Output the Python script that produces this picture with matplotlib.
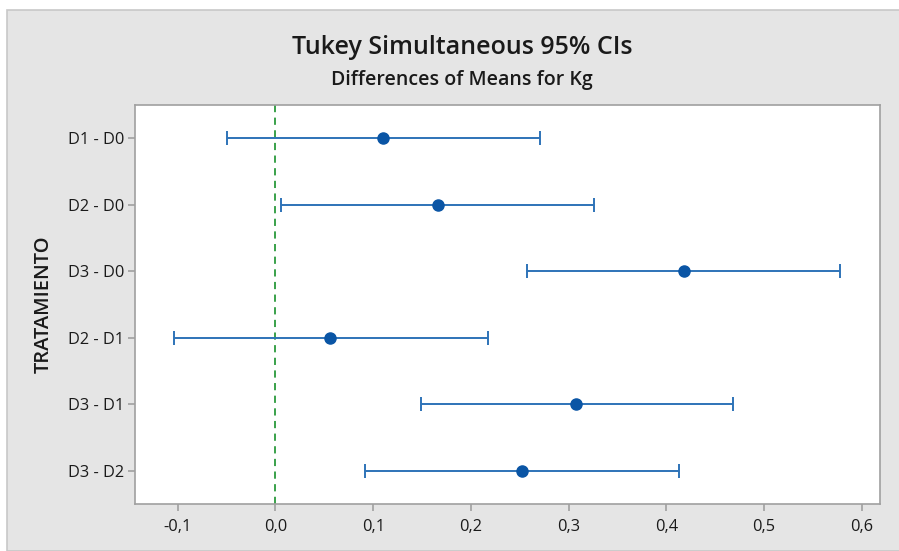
import matplotlib
matplotlib.use('Agg')
import matplotlib.pyplot as plt
import matplotlib.patches as mpatches
from matplotlib.ticker import FuncFormatter

# comparisons (top to bottom)
comparisons = ['D1 - D0', 'D2 - D0', 'D3 - D0', 'D2 - D1', 'D3 - D1', 'D3 - D2']
diff_means = [0.110, 0.166, 0.418, 0.056, 0.308, 0.252]
ci_lower = [-0.050, 0.006, 0.257, -0.104, 0.149, 0.092]
ci_upper = [0.271, 0.326, 0.578, 0.217, 0.468, 0.413]
x_ticks = [-0.1, 0.0, 0.1, 0.2, 0.3, 0.4, 0.5, 0.6]

plt.rcParams['font.family'] = ['Open Sans', 'DejaVu Sans']

fig = plt.figure(figsize=(8.99, 5.51), dpi=100)
fig.patch.set_facecolor('white')

# gray panel behind everything
panel = mpatches.Rectangle((7 / 899, 0), 1, 1 - 10 / 551, transform=fig.transFigure,
                           facecolor='#e5e5e5', edgecolor='#c8c8c8', linewidth=1.2, zorder=-5)
fig.patches.append(panel)

ax = fig.add_axes([135 / 899, 1 - 504 / 551, (880 - 135) / 899, (504 - 105) / 551])
ax.set_facecolor('white')

ypos = list(range(len(comparisons)))
xerr = [[m - lo for m, lo in zip(diff_means, ci_lower)],
        [hi - m for m, hi in zip(diff_means, ci_upper)]]

ax.axvline(0, color='#2a9a3c', linestyle=(0, (4, 3)), linewidth=1.3, zorder=1)
ax.errorbar(diff_means, ypos, xerr=xerr, fmt='o', color='#0a55a5', ecolor='#2e73b8',
            elinewidth=1.4, capsize=5, capthick=1.4, markersize=8, zorder=3)

ax.set_xlim(-0.1438, 0.6187)
ax.set_ylim(len(comparisons) - 0.5, -0.5)
ax.set_yticks(ypos)
ax.set_yticklabels(comparisons)
ax.set_xticks(x_ticks)
ax.xaxis.set_major_formatter(FuncFormatter(lambda v, p: f'{v:.1f}'.replace('.', ',').replace('-0,0', '0,0')))

for sp in ax.spines.values():
    sp.set_color('#a0a0a0')
    sp.set_linewidth(1.2)
ax.tick_params(axis='both', colors='#a0a0a0', labelcolor='#1a1a1a', length=5, width=1.2,
               labelsize=11.8)
ax.tick_params(axis='x', pad=6)
ax.tick_params(axis='y', pad=3)

ax.set_ylabel('TRATAMIENTO', fontsize=14.5, fontweight='semibold', color='#1a1a1a', labelpad=10)

fig.text(462 / 899, 1 - 47 / 551, 'Tukey Simultaneous 95% CIs', ha='center', va='center',
         fontsize=18, fontweight='semibold', color='#1a1a1a')
fig.text(462 / 899, 1 - 80 / 551, 'Differences of Means for Kg', ha='center', va='center',
         fontsize=14, fontweight='semibold', color='#1a1a1a')

fig.savefig('out.png', dpi=100, facecolor=fig.get_facecolor())
